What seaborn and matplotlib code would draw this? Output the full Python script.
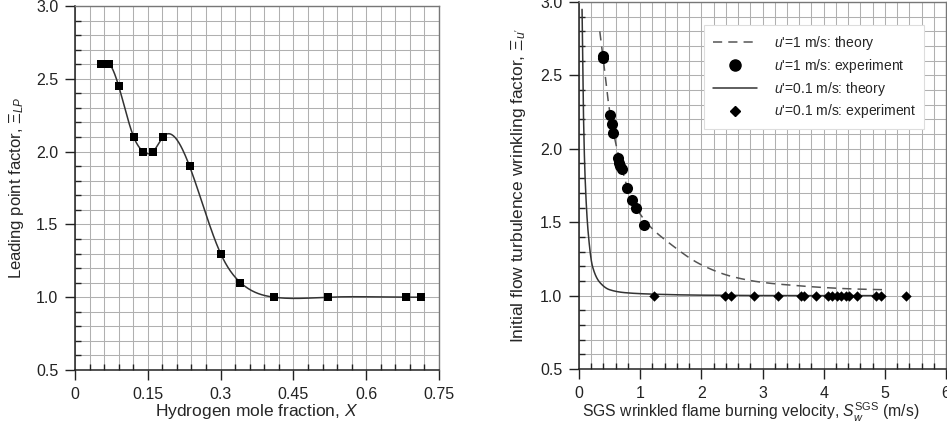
import numpy as np
import matplotlib.pyplot as plt
from matplotlib.ticker import MultipleLocator, FuncFormatter
from matplotlib.lines import Line2D
import seaborn as sns

# left panel: leading point factor vs hydrogen mole fraction
h2_frac = [0.054, 0.071, 0.090, 0.121, 0.141, 0.161, 0.181, 0.236, 0.300, 0.341, 0.410, 0.521, 0.681, 0.712]
xi_lp = [2.60, 2.60, 2.45, 2.10, 2.00, 2.00, 2.10, 1.90, 1.30, 1.10, 1.00, 1.00, 1.00, 1.00]

# right panel, u'=1 m/s
exp1_s = [0.39, 0.40, 0.507, 0.534, 0.561, 0.632, 0.654, 0.675, 0.697, 0.779, 0.871, 0.926, 1.07]
exp1_xi = [2.63, 2.62, 2.23, 2.17, 2.11, 1.94, 1.90, 1.88, 1.86, 1.73, 1.65, 1.60, 1.48]
theory1_s = [0.34, 0.40, 0.50, 0.65, 0.85, 1.10, 1.50, 2.00, 2.50, 3.00, 3.50, 4.00, 4.50, 5.00]
theory1_xi = [2.80, 2.60, 2.26, 1.95, 1.67, 1.50, 1.35, 1.21, 1.13, 1.09, 1.07, 1.055, 1.045, 1.04]

# right panel, u'=0.1 m/s
theory01_s = [0.05, 0.07, 0.10, 0.15, 0.22, 0.34, 0.50, 0.75, 1.20, 2.00, 3.50, 5.00]
theory01_xi = [2.95, 2.30, 1.80, 1.43, 1.20, 1.09, 1.04, 1.02, 1.01, 1.003, 1.0, 1.0]
exp01_s = [1.225, 2.386, 2.48, 2.86, 3.26, 3.63, 3.68, 3.87, 4.07, 4.14, 4.22, 4.29, 4.36, 4.42,
           4.54, 4.86, 4.93, 5.34]
exp01_xi = [1.0, 1.0, 1.0, 1.0, 1.0, 1.0, 1.0, 1.0, 1.0, 1.0, 1.0, 1.0, 1.0, 1.0,
            1.0, 1.0, 1.0, 1.0]


def natural_spline(x, y, per=30):
    # smooth line through the points (natural cubic spline)
    x = np.asarray(x, float)
    y = np.asarray(y, float)
    k = len(x)
    h = np.diff(x)
    A = np.zeros((k, k))
    r = np.zeros(k)
    A[0, 0] = A[-1, -1] = 1
    for i in range(1, k - 1):
        A[i, i - 1] = h[i - 1]
        A[i, i] = 2 * (h[i - 1] + h[i])
        A[i, i + 1] = h[i]
        r[i] = 3 * ((y[i + 1] - y[i]) / h[i] - (y[i] - y[i - 1]) / h[i - 1])
    c = np.linalg.solve(A, r)
    b = (y[1:] - y[:-1]) / h - h * (2 * c[:-1] + c[1:]) / 3
    d = (c[1:] - c[:-1]) / (3 * h)
    xs, ys = [], []
    for i in range(k - 1):
        t = np.linspace(0, h[i], per, endpoint=False)
        xs.append(x[i] + t)
        ys.append(y[i] + b[i] * t + c[i] * t ** 2 + d[i] * t ** 3)
    xs.append([x[-1]])
    ys.append([y[-1]])
    return np.concatenate(xs), np.concatenate(ys)


def pchip(x, y, per=30):
    # monotone cubic through the points
    x = np.asarray(x, float)
    y = np.asarray(y, float)
    h = np.diff(x)
    dl = np.diff(y) / h
    m = np.zeros_like(y)
    m[0], m[-1] = dl[0], dl[-1]
    for i in range(1, len(x) - 1):
        if dl[i - 1] * dl[i] > 0:
            w1 = 2 * h[i] + h[i - 1]
            w2 = h[i] + 2 * h[i - 1]
            m[i] = (w1 + w2) / (w1 / dl[i - 1] + w2 / dl[i])
    xs, ys = [], []
    for i in range(len(x) - 1):
        t = np.linspace(0, 1, per, endpoint=False)
        h00 = 2 * t ** 3 - 3 * t ** 2 + 1
        h10 = t ** 3 - 2 * t ** 2 + t
        h01 = -2 * t ** 3 + 3 * t ** 2
        h11 = t ** 3 - t ** 2
        xs.append(x[i] + t * h[i])
        ys.append(h00 * y[i] + h10 * h[i] * m[i] + h01 * y[i + 1] + h11 * h[i] * m[i + 1])
    xs.append([x[-1]])
    ys.append([y[-1]])
    return np.concatenate(xs), np.concatenate(ys)


sns.set_style("ticks")
plt.rcParams['font.family'] = ['Liberation Sans', 'DejaVu Sans']
plt.rcParams['mathtext.fontset'] = 'custom'
plt.rcParams['mathtext.rm'] = 'Liberation Sans'
plt.rcParams['mathtext.it'] = 'Liberation Sans:italic'
plt.rcParams['font.size'] = 12

fig = plt.figure(figsize=(9.47, 4.3), dpi=100)
ax1 = fig.add_axes([75 / 947, 1 - 370 / 430, 364 / 947, 364 / 430])
ax2 = fig.add_axes([579 / 947, 1 - 369 / 430, 367 / 947, 367 / 430])

line_col = '#333333'

# left panel
cx, cy = natural_spline(h2_frac, xi_lp)
sns.lineplot(x=cx, y=cy, ax=ax1, color=line_col, lw=1.1, sort=False, estimator=None)
sns.scatterplot(x=h2_frac, y=xi_lp, ax=ax1, marker='s', s=36, color='black', linewidth=0, zorder=3)

# right panel
tx1, ty1 = pchip(theory1_s, theory1_xi)
tx2, ty2 = pchip(theory01_s, theory01_xi)
sns.lineplot(x=tx1, y=ty1, ax=ax2, color='#555555', lw=1.1, sort=False, estimator=None,
             dashes=False, linestyle=(0, (6, 4)))
sns.scatterplot(x=exp1_s, y=exp1_xi, ax=ax2, marker='o', s=64, color='black', linewidth=0, zorder=3)
sns.lineplot(x=tx2, y=ty2, ax=ax2, color=line_col, lw=1.1, sort=False, estimator=None)
sns.scatterplot(x=exp01_s, y=exp01_xi, ax=ax2, marker='D', s=28, color='black', linewidth=0, zorder=3)

for ax in (ax1, ax2):
    ax.set_ylim(0.5, 3.0)
    ax.yaxis.set_major_locator(MultipleLocator(0.5))
    ax.yaxis.set_minor_locator(MultipleLocator(0.1))
    ax.yaxis.set_major_formatter(FuncFormatter(lambda v, p: f"{v:.1f}"))
    ax.grid(which='both', color='#b0b0b0', lw=0.75)
    ax.set_axisbelow(True)
    ax.tick_params(which='major', direction='out', length=7, width=1, pad=5,
                   labelsize=11.5, colors='#222222')
    ax.tick_params(which='minor', direction='in', length=4, width=1, color='#222222')
    for side in ('top', 'right'):
        ax.spines[side].set_color('#777777')
        ax.spines[side].set_linewidth(1)
    for side in ('left', 'bottom'):
        ax.spines[side].set_color('#222222')
        ax.spines[side].set_linewidth(1.1)

ax1.set_xlim(0, 0.75)
ax1.xaxis.set_major_locator(MultipleLocator(0.15))
ax1.xaxis.set_minor_locator(MultipleLocator(0.03))
ax1.xaxis.set_major_formatter(FuncFormatter(lambda v, p: f"{round(v, 2):g}"))
ax1.set_xlabel("Hydrogen mole fraction, $X$", fontsize=12.5)
ax1.set_ylabel(r"Leading point factor, $\Xi_{LP}$", fontsize=12)
ax1.xaxis.set_label_coords(0.5, -0.088)
ax1.yaxis.set_label_coords(-0.135, 0.5)

ax2.set_xlim(0, 6)
ax2.xaxis.set_major_locator(MultipleLocator(1))
ax2.xaxis.set_minor_locator(MultipleLocator(0.2))
ax2.xaxis.set_major_formatter(FuncFormatter(lambda v, p: f"{v:g}"))
ax2.set_xlabel(r"SGS wrinkled flame burning velocity, $S_w^{\mathrm{SGS}}$ (m/s)", fontsize=11.3)
ax2.set_ylabel(r"Initial flow turbulence wrinkling factor, $\Xi_{u'}$", fontsize=12.5)
ax2.xaxis.set_label_coords(0.468, -0.088)
ax2.yaxis.set_label_coords(-0.139, 0.5)

handles = [
    Line2D([], [], color='#555555', lw=1.1, linestyle=(0, (6, 4))),
    Line2D([], [], color='black', marker='o', ms=8, ls='none'),
    Line2D([], [], color=line_col, lw=1.1),
    Line2D([], [], color='black', marker='D', ms=5.5, ls='none'),
]
labels = ["$u$'=1 m/s: theory", "$u$'=1 m/s: experiment",
          "$u$'=0.1 m/s: theory", "$u$'=0.1 m/s: experiment"]
leg = ax2.legend(handles, labels, loc='upper right', bbox_to_anchor=(0.96, 0.955), fontsize=10,
                 handlelength=3.2, fancybox=False, framealpha=1, edgecolor='#dddddd',
                 borderpad=0.6, labelspacing=0.35, handletextpad=1.2)
leg.get_frame().set_linewidth(0.8)

plt.savefig('out.png', dpi=100)
